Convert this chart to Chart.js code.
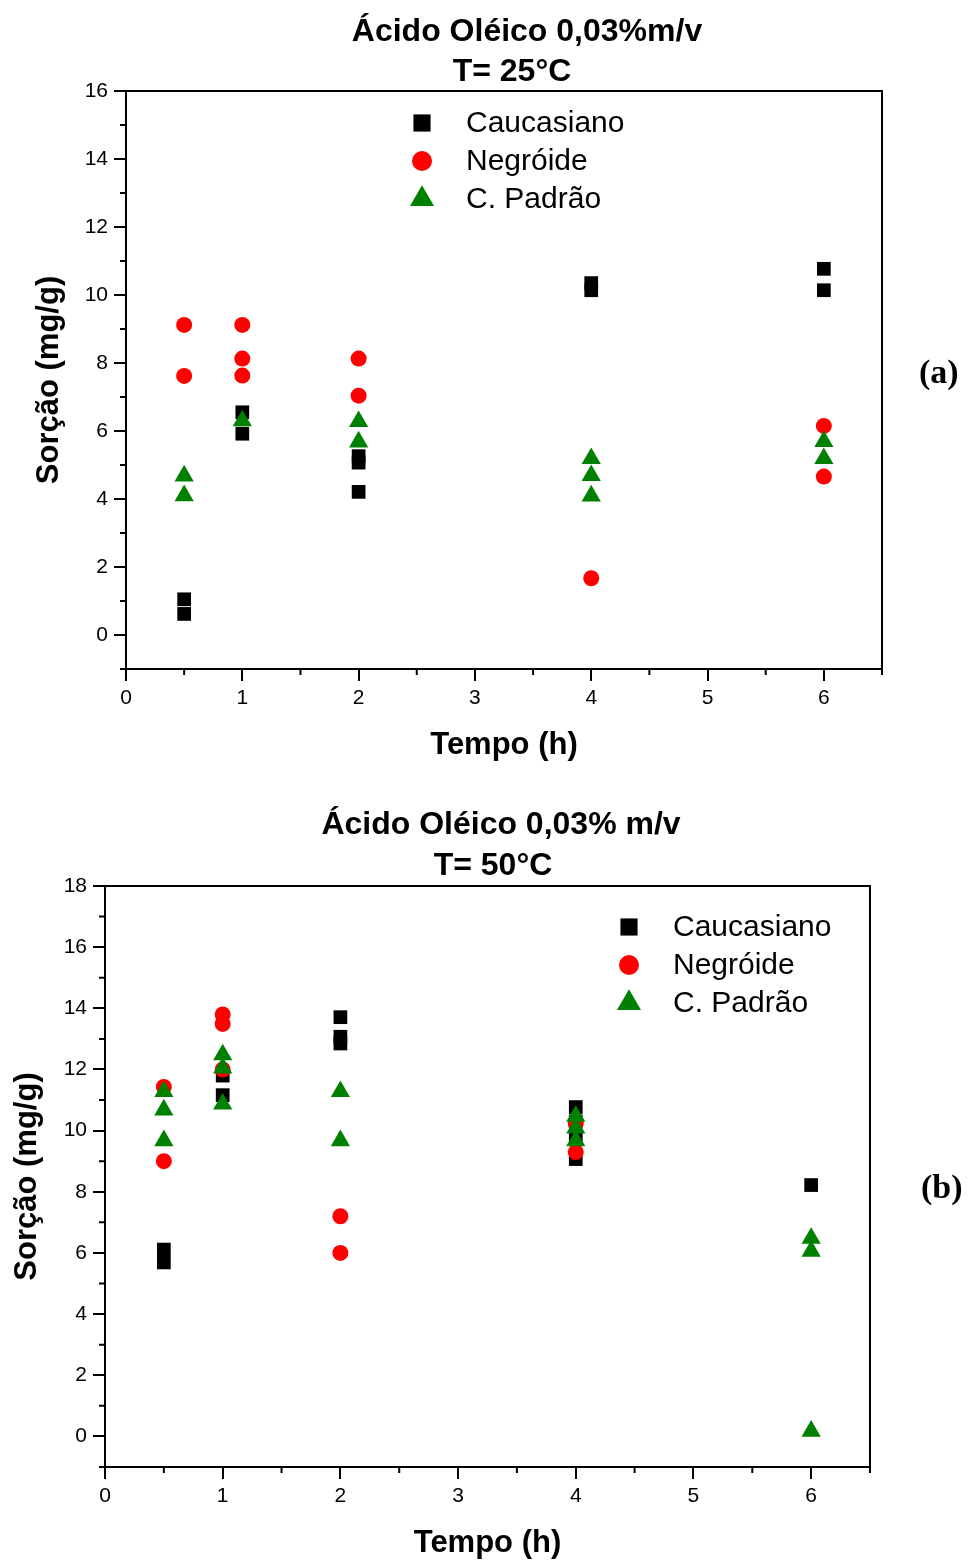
<!DOCTYPE html>
<html>
<head>
<meta charset="utf-8">
<script src="https://cdn.jsdelivr.net/npm/chart.js@4.4.1/dist/chart.umd.min.js"></script>
<style>
body { margin: 0; background: #fff; width: 969px; height: 1564px; position: relative; overflow: hidden; font-family: 'Liberation Sans', Arial, sans-serif; }
canvas { position: absolute; left: 0; }
.t { position: absolute; font-weight: bold; font-size: 32px; line-height: 40px; white-space: nowrap; transform: translateX(-50%); color: #000; }
.lab { position: absolute; font-family: 'Liberation Serif', 'Times New Roman', serif; font-weight: bold; font-size: 34px; line-height: 36px; color: #000; }
</style>
</head>
<body>
<canvas id="chartA" width="969" height="780" style="top:0"></canvas>
<canvas id="chartB" width="969" height="784" style="top:780px"></canvas>

<div class="t" style="left:527px;top:10px">Ácido Oléico 0,03%m/v</div>
<div class="t" style="left:512px;top:50px">T= 25°C</div>
<div class="lab" style="left:919px;top:354px">(a)</div>

<div class="t" style="left:501px;top:803px">Ácido Oléico 0,03% m/v</div>
<div class="t" style="left:493px;top:844px">T= 50°C</div>
<div class="lab" style="left:921px;top:1169px">(b)</div>

<script>
// series
const seriesNames = ['Caucasiano', 'Negróide', 'C. Padrão'];
const seriesColors = ['#000000', '#ff0000', '#008000'];
const seriesStyles = ['rect', 'circle', 'triangle'];
const seriesRadius = [9.7, 8, 11.1];

// T = 25 C
const caucTime25 = [0.5, 0.5, 1, 1, 2, 2, 2, 4, 4, 6, 6];
const caucSorp25 = [1.05, 0.62, 6.55, 5.92, 5.26, 5.07, 4.21, 10.35, 10.14, 10.77, 10.14];
const negrTime25 = [0.5, 0.5, 1, 1, 1, 2, 2, 4, 6, 6];
const negrSorp25 = [9.12, 7.62, 9.12, 8.13, 7.63, 8.13, 7.04, 1.67, 6.15, 4.66];
const padrTime25 = [0.5, 0.5, 1, 2, 2, 4, 4, 4, 6, 6];
const padrSorp25 = [4.68, 4.1, 6.3, 6.28, 5.68, 5.19, 4.69, 4.09, 5.69, 5.19];

// T = 50 C
const caucTime50 = [0.5, 0.5, 1, 1, 2, 2, 2, 4, 4, 4, 4, 6];
const caucSorp50 = [6.11, 5.69, 11.8, 11.16, 13.71, 13.07, 12.85, 10.77, 10.3, 9.75, 9.07, 8.22];
const negrTime50 = [0.5, 0.5, 1, 1, 1, 2, 2, 4, 4];
const negrSorp50 = [11.43, 9.0, 13.8, 13.49, 12.0, 7.2, 6.0, 10.23, 9.3];
const padrTime50 = [0.5, 0.5, 0.5, 1, 1, 1, 2, 2, 4, 4, 4, 6, 6, 6];
const padrSorp50 = [11.28, 10.68, 9.67, 12.48, 12.05, 10.87, 11.28, 9.67, 10.47, 10.09, 9.67, 6.48, 6.06, 0.17];

// ticks
const xTicks = [0, 1, 2, 3, 4, 5, 6];
const xMinor = [0.5, 1.5, 2.5, 3.5, 4.5, 5.5, 6.5];
const yTicks25 = [0, 2, 4, 6, 8, 10, 12, 14, 16];
const yMinor25 = [-1, 1, 3, 5, 7, 9, 11, 13, 15];
const yTicks50 = [0, 2, 4, 6, 8, 10, 12, 14, 16, 18];
const yMinor50 = [-1, 1, 3, 5, 7, 9, 11, 13, 15, 17];

function toPoints(xs, ys) {
  return xs.map((x, i) => ({ x: x, y: ys[i] }));
}

function makeDatasets(groups) {
  return groups.map((g, i) => ({
    label: seriesNames[i],
    data: toPoints(g[0], g[1]),
    pointStyle: seriesStyles[i],
    pointRadius: seriesRadius[i],
    pointHoverRadius: seriesRadius[i],
    backgroundColor: seriesColors[i],
    borderColor: seriesColors[i],
    borderWidth: 0,
    order: 3 - i
  }));
}

// frame, minor ticks and the legend inside the plot
const frameAndLegend = {
  id: 'frameAndLegend',
  afterDraw(chart, args, opts) {
    const { ctx, chartArea: a, scales: { x, y } } = chart;
    ctx.save();
    ctx.strokeStyle = '#000';
    ctx.lineWidth = 2;
    ctx.strokeRect(a.left, a.top, a.right - a.left, a.bottom - a.top);
    ctx.beginPath();
    opts.xMinor.forEach(v => {
      const px = x.getPixelForValue(v);
      ctx.moveTo(px, a.bottom);
      ctx.lineTo(px, a.bottom + 6);
    });
    opts.yMinor.forEach(v => {
      const py = y.getPixelForValue(v);
      ctx.moveTo(a.left, py);
      ctx.lineTo(a.left - 6, py);
    });
    ctx.stroke();

    ctx.font = '30px "Liberation Sans", Arial, sans-serif';
    ctx.textBaseline = 'middle';
    ctx.textAlign = 'left';
    chart.data.datasets.forEach((ds, i) => {
      const mx = a.left + opts.legendX;
      const my = a.top + opts.legendY + i * 38;
      ctx.fillStyle = ds.backgroundColor;
      Chart.helpers.drawPoint(ctx, { pointStyle: ds.pointStyle, radius: ds.pointRadius * 1.25, rotation: 0, borderWidth: 0 }, mx, my);
      ctx.fillStyle = '#000';
      ctx.fillText(ds.label, mx + 44, my + 1);
    });
    ctx.restore();
  }
};

function makeChart(id, datasets, cfg) {
  return new Chart(document.getElementById(id), {
    type: 'scatter',
    data: { datasets: datasets },
    options: {
      responsive: false,
      animation: false,
      devicePixelRatio: 1,
      events: [],
      layout: { padding: { top: cfg.top, right: cfg.right, left: 0, bottom: 0 } },
      plugins: {
        legend: { display: false },
        tooltip: { enabled: false },
        frameAndLegend: { xMinor: xMinor, yMinor: cfg.yMinor, legendX: cfg.legendX, legendY: cfg.legendY }
      },
      scales: {
        x: {
          type: 'linear',
          min: 0,
          max: 6.5,
          afterBuildTicks: s => { s.ticks = xTicks.map(v => ({ value: v })); },
          afterFit: s => { s.height = cfg.xHeight; },
          grid: { drawOnChartArea: false, color: '#000', lineWidth: 2, tickLength: 12 },
          border: { color: '#000', width: 2 },
          ticks: { color: '#000', font: { size: 21 }, padding: 5, maxRotation: 0, autoSkip: false },
          title: { display: true, text: 'Tempo (h)', color: '#000', font: { size: 31, weight: 'bold' }, padding: { top: 0, bottom: cfg.xTitlePad } }
        },
        y: {
          type: 'linear',
          min: -1,
          max: cfg.yMax,
          afterBuildTicks: s => { s.ticks = cfg.yTicks.map(v => ({ value: v })); },
          afterFit: s => { s.width = cfg.yWidth; },
          grid: { drawOnChartArea: false, color: '#000', lineWidth: 2, tickLength: 12 },
          border: { color: '#000', width: 2 },
          ticks: { color: '#000', font: { size: 21 }, padding: 6 },
          title: { display: true, text: 'Sorção (mg/g)', color: '#000', font: { size: 31, weight: 'bold' }, padding: { top: cfg.yTitlePad, bottom: 0 } }
        }
      }
    },
    plugins: [frameAndLegend]
  });
}

Chart.defaults.font.family = '"Liberation Sans", Arial, sans-serif';
Chart.defaults.color = '#000';

makeChart('chartA', makeDatasets([[caucTime25, caucSorp25], [negrTime25, negrSorp25], [padrTime25, padrSorp25]]), {
  top: 91, right: 87, yWidth: 126, xHeight: 111, yMax: 16,
  yTicks: yTicks25, yMinor: yMinor25, xTitlePad: 16, yTitlePad: 31,
  legendX: 296, legendY: 32
});

makeChart('chartB', makeDatasets([[caucTime50, caucSorp50], [negrTime50, negrSorp50], [padrTime50, padrSorp50]]), {
  top: 106, right: 99, yWidth: 105, xHeight: 97, yMax: 18,
  yTicks: yTicks50, yMinor: yMinor50, xTitlePad: 2, yTitlePad: 9,
  legendX: 524, legendY: 41
});
</script>
</body>
</html>
